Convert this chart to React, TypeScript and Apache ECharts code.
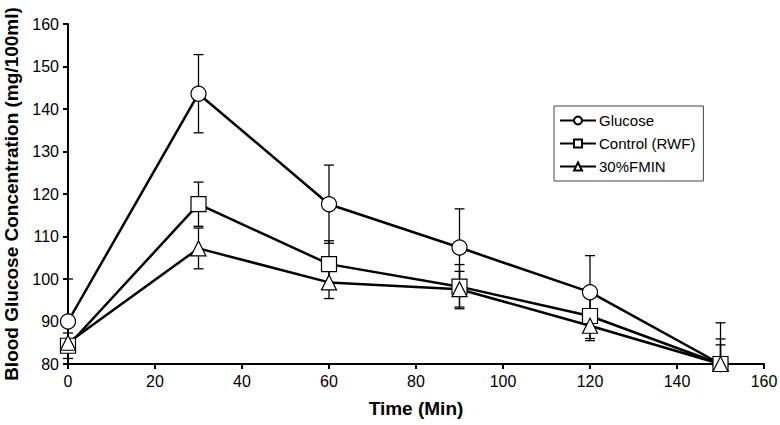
import React, { useEffect, useRef } from "react";
import * as echarts from "echarts";

const timeMin = [0, 30, 60, 90, 120, 150];
const glucose = [90, 143.6, 117.6, 107.4, 96.9, 80];
const glucoseSD = [10, 9.2, 9.2, 9.1, 8.6, 9.7];
const control = [84.3, 117.6, 103.5, 98.2, 91.3, 80];
const controlSD = [3, 5.2, 5.5, 5.2, 5.8, 5.9];
const fmin = [85, 107.2, 99.2, 97.6, 89, 80];
const fminSD = [5.6, 4.8, 3.8, 4.2, 3, 4.5];

const seriesNames = ["Glucose", "Control (RWF)", "30%FMIN"];
const FONT = "'Liberation Sans', Arial, Helvetica, sans-serif";
const Y_MIN = 80;

export default function App() {
  const ref = useRef<HTMLDivElement>(null);
  useEffect(() => {
    document.body.style.margin = "0";
    const chart = echarts.init(ref.current!, null, { renderer: "svg" });
    const sets = [
      { name: seriesNames[0], vals: glucose, sd: glucoseSD, symbol: "circle" },
      { name: seriesNames[1], vals: control, sd: controlSD, symbol: "rect" },
      { name: seriesNames[2], vals: fmin, sd: fminSD, symbol: "triangle" },
    ];
    const lineSeries = sets.map((s) => ({
      type: "line",
      name: s.name,
      data: timeMin.map((t, i) => [t, s.vals[i]]),
      symbol: s.symbol,
      symbolSize: 15,
      showAllSymbol: true,
      z: 3,
      lineStyle: { color: "#000", width: 2.5 },
      itemStyle: { color: "#fff", borderColor: "#000", borderWidth: 1.2 },
    }));
    const errSeries = sets.map((s) => ({
      type: "custom",
      name: s.name + " SD",
      z: 1,
      silent: true,
      data: timeMin.map((t, i) => [t, s.vals[i] - s.sd[i], s.vals[i] + s.sd[i]]),
      renderItem: (params: any, api: any) => {
        const x = api.value(0);
        const lo = api.coord([x, Math.max(Y_MIN, api.value(1))]);
        const hi = api.coord([x, api.value(2)]);
        const hw = 5;
        const st = { stroke: "#000", lineWidth: 1.3 };
        return {
          type: "group",
          children: [
            { type: "line", shape: { x1: lo[0], y1: lo[1], x2: hi[0], y2: hi[1] }, style: st },
            { type: "line", shape: { x1: lo[0] - hw, y1: lo[1], x2: lo[0] + hw, y2: lo[1] }, style: st },
            { type: "line", shape: { x1: hi[0] - hw, y1: hi[1], x2: hi[0] + hw, y2: hi[1] }, style: st },
          ],
        };
      },
    }));
    chart.setOption({
      animation: false,
      textStyle: { fontFamily: FONT, color: "#000" },
      grid: { left: 68, right: 16, top: 24, bottom: 61, containLabel: false, outerBoundsMode: "none" },
      legend: {
        data: seriesNames,
        orient: "vertical",
        left: 554,
        top: 106,
        padding: [7, 8, 7, 5],
        itemGap: 8,
        itemWidth: 36,
        itemHeight: 10,
        borderColor: "#444",
        borderWidth: 1,
        textStyle: { fontSize: 15, fontFamily: FONT, color: "#000", padding: [0, 0, 0, -2] },
      },
      xAxis: {
        type: "value",
        min: 0,
        max: 160,
        interval: 20,
        name: "Time (Min)",
        nameLocation: "middle",
        nameGap: 35,
        nameTextStyle: { fontSize: 19, fontWeight: "bold", fontFamily: FONT, color: "#000" },
        axisLine: { lineStyle: { color: "#000", width: 2 } },
        axisTick: { length: 5, lineStyle: { color: "#000", width: 2 } },
        axisLabel: { fontSize: 16, color: "#000", fontFamily: FONT, margin: 9 },
        splitLine: { show: false },
      },
      yAxis: {
        type: "value",
        min: Y_MIN,
        max: 160,
        interval: 10,
        name: "Blood Glucose Concentration (mg/100ml)",
        nameLocation: "middle",
        nameGap: 47,
        nameTextStyle: { fontSize: 19, fontWeight: "bold", fontFamily: FONT, color: "#000" },
        axisLine: { show: true, lineStyle: { color: "#000", width: 2 } },
        axisTick: { show: true, length: 5, lineStyle: { color: "#000", width: 2 } },
        axisLabel: { fontSize: 16, color: "#000", fontFamily: FONT, margin: 9 },
        splitLine: { show: false },
      },
      series: [...errSeries, ...lineSeries],
    });
    return () => chart.dispose();
  }, []);
  return <div ref={ref} style={{ width: 780, height: 425 }} />;
}
